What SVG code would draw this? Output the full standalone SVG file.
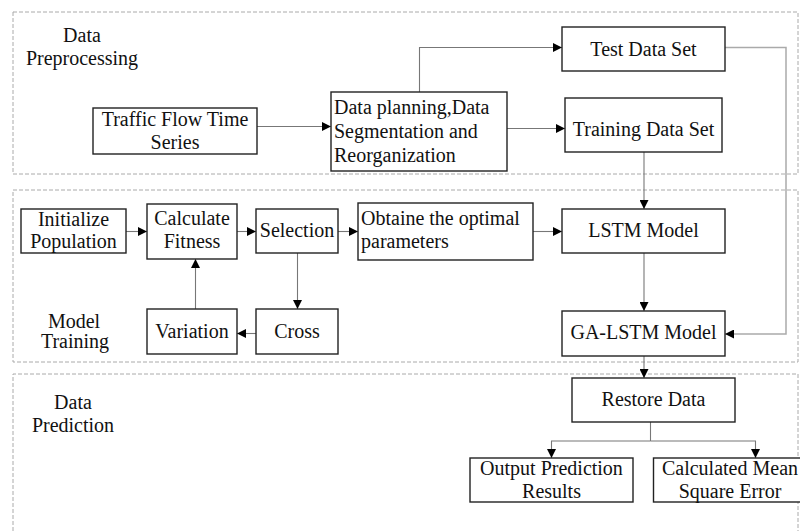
<svg xmlns="http://www.w3.org/2000/svg" width="800" height="531" viewBox="0 0 800 531">
<style>
.t{font-family:'Liberation Serif','DejaVu Serif','Noto Serif',serif;font-size:20px;fill:#111}
.c{text-anchor:middle}
.box{fill:#fff;stroke:#222;stroke-width:1.4}
.grp{fill:none;stroke:#aaa;stroke-width:1;stroke-dasharray:4 2}
.con{fill:none;stroke:#777;stroke-width:1.1}
.con2{fill:none;stroke:#aaa;stroke-width:1.5}
</style>
<defs>
<marker id="ah" viewBox="0 0 10 10" refX="10" refY="5" markerWidth="9" markerHeight="9" markerUnits="userSpaceOnUse" orient="auto"><path d="M0,0 L10,5 L0,10 Z" fill="#000"/></marker>
</defs>
<rect width="800" height="531" fill="#fff"/>
<g class="t" font-family="Liberation Serif, serif">
<g id="sections">
<rect class="grp" x="13" y="12" width="785" height="162"/>
<rect class="grp" x="13" y="190" width="785" height="172"/>
<path class="grp" d="M13,531 V374 H798 V531"/>
<text class="c" x="82" y="42">Data</text>
<text class="c" x="82" y="65">Preprocessing</text>
<text class="c" x="74" y="328">Model</text>
<text class="c" x="75" y="348">Training</text>
<text class="c" x="73" y="409">Data</text>
<text class="c" x="73" y="432">Prediction</text>
</g>
<g id="connectors">
<path class="con" d="M257,126.5 H331" marker-end="url(#ah)"/>
<path class="con" d="M507,128.5 H565" marker-end="url(#ah)"/>
<path class="con" d="M419.5,92 V47.5 H562" marker-end="url(#ah)"/>
<path class="con2" d="M725,47.5 H786 V334 H725" marker-end="url(#ah)"/>
<path class="con" d="M644,152 V209" marker-end="url(#ah)"/>
<path class="con" d="M126,231.5 H147" marker-end="url(#ah)"/>
<path class="con" d="M237,231.5 H256" marker-end="url(#ah)"/>
<path class="con" d="M338,231.5 H358" marker-end="url(#ah)"/>
<path class="con" d="M533,231.5 H562" marker-end="url(#ah)"/>
<path class="con" d="M297.5,253 V309" marker-end="url(#ah)"/>
<path class="con" d="M256,333.5 H237" marker-end="url(#ah)"/>
<path class="con" d="M195.5,309 V259" marker-end="url(#ah)"/>
<path class="con" d="M644,253 V311" marker-end="url(#ah)"/>
<path class="con" d="M644,356 V378" marker-end="url(#ah)"/>
<path class="con" d="M650.5,422 V441"/>
<path class="con" d="M650.5,441 H551.5 V458" marker-end="url(#ah)"/>
<path class="con" d="M650.5,441 H755.5 V458" marker-end="url(#ah)"/>
</g>
<g id="traffic"><rect class="box" x="93" y="108" width="164" height="46"/><text class="c" x="175" y="126">Traffic Flow Time</text><text class="c" x="175" y="149">Series</text></g>
<g id="planning"><rect class="box" x="331" y="92" width="176" height="79"/><text x="334" y="114">Data planning,Data</text><text x="334" y="138">Segmentation and</text><text x="334" y="162">Reorganization</text></g>
<g id="test"><rect class="box" x="562" y="27" width="163" height="44"/><text class="c" x="643.5" y="56">Test Data Set</text></g>
<g id="training"><rect class="box" x="565" y="98" width="157" height="54"/><text class="c" x="643.5" y="136">Training Data Set</text></g>
<g id="init"><rect class="box" x="21" y="209" width="105" height="44"/><text class="c" x="73.5" y="226">Initialize</text><text class="c" x="73.5" y="248">Population</text></g>
<g id="fitness"><rect class="box" x="147" y="204" width="90" height="55"/><text class="c" x="192" y="225">Calculate</text><text class="c" x="192" y="248">Fitness</text></g>
<g id="selection"><rect class="box" x="256" y="209" width="82" height="44"/><text class="c" x="297" y="237">Selection</text></g>
<g id="optimal"><rect class="box" x="358" y="203" width="175" height="57"/><text x="361" y="225">Obtaine the optimal</text><text x="361" y="248">parameters</text></g>
<g id="lstm"><rect class="box" x="562" y="209" width="163" height="44"/><text class="c" x="643.5" y="237">LSTM Model</text></g>
<g id="variation"><rect class="box" x="147" y="309" width="90" height="45"/><text class="c" x="192" y="338">Variation</text></g>
<g id="cross"><rect class="box" x="256" y="309" width="82" height="45"/><text class="c" x="297" y="338">Cross</text></g>
<g id="galstm"><rect class="box" x="562" y="311" width="163" height="45"/><text class="c" x="643.5" y="339">GA-LSTM Model</text></g>
<g id="restore"><rect class="box" x="572" y="378" width="163" height="44"/><text class="c" x="653.5" y="406">Restore Data</text></g>
<g id="output"><rect class="box" x="470" y="458" width="163" height="44"/><text class="c" x="551.5" y="475">Output Prediction</text><text class="c" x="551.5" y="497.5">Results</text></g>
<g id="mse"><rect class="box" x="653.5" y="458" width="163" height="44"/><text class="c" x="730" y="475">Calculated Mean</text><text class="c" x="730" y="497.5">Square Error</text></g>
</g>
</svg>
